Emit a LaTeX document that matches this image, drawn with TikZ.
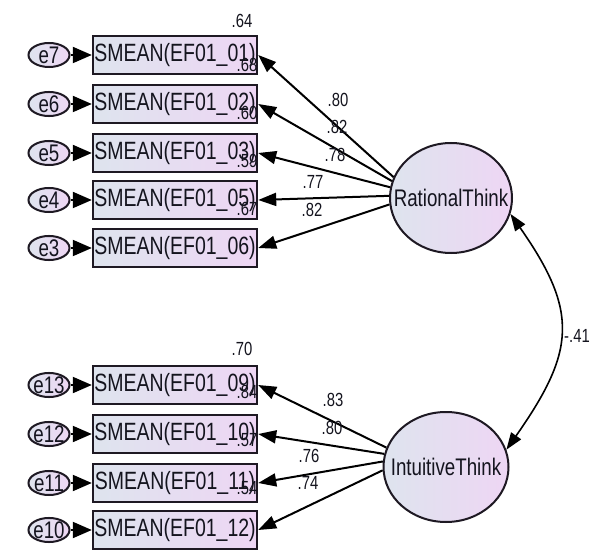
\documentclass[tikz,border=0pt]{standalone}
\usepackage{fontspec}
\setmainfont{Liberation Sans}[FakeStretch=0.78]
\usetikzlibrary{arrows.meta,shapes.geometric}
\definecolor{fillL}{RGB}{222,228,238}
\definecolor{fillR}{RGB}{238,214,244}
\definecolor{edge}{RGB}{30,25,35}
\definecolor{ink}{RGB}{20,20,30}
\tikzset{
  obs/.style={draw=edge, line width=2.4pt, left color=fillL, right color=fillR,
    minimum width=164pt, minimum height=38pt, inner sep=0pt, text=ink,
    font=\fontsize{25}{25}\selectfont},
  err/.style={ellipse, draw=edge, line width=2pt, left color=fillL, right color=fillR,
    minimum width=41pt, minimum height=24pt, inner sep=0pt, text=ink,
    font=\fontsize{24}{24}\selectfont},
  lat/.style={ellipse, draw=edge, line width=2pt, left color=fillL, right color=fillR,
    minimum width=120pt, minimum height=108pt, inner sep=0pt, text=ink,
    font=\fontsize{24}{24}\selectfont},
  load/.style={line width=2pt, -{Triangle[length=18pt,width=13pt]}},
  errarr/.style={line width=2pt, -{Triangle[length=19pt,width=16pt]}},
  cov/.style={line width=1.6pt, {Triangle[length=17pt,width=12pt]}-{Triangle[length=17pt,width=12pt]}},
  lbl/.style={font=\fontsize{19}{19}\selectfont, inner sep=0pt, text=ink},
}
\begin{document}
\begin{tikzpicture}[x=1pt,y=1pt]
\useasboundingbox[fill=white] (0,0) rectangle (595,550);

% latent variables
\node[lat, minimum width=122pt, minimum height=110pt] (RT) at (451,352) {\makebox[0pt]{RationalThink}};
\node[lat, minimum width=125pt, minimum height=110pt] (IT) at (446,83) {\makebox[0pt]{IntuitiveThink}};

% observed variables (upper)
\node[obs] (b1) at (175,495) {SMEAN(EF01\_01)};
\node[obs] (b2) at (175,446) {SMEAN(EF01\_02)};
\node[obs] (b3) at (175,397) {SMEAN(EF01\_03)};
\node[obs] (b4) at (175,350) {SMEAN(EF01\_05)};
\node[obs] (b5) at (175,302) {SMEAN(EF01\_06)};
% observed variables (lower)
\node[obs] (c1) at (175,165) {SMEAN(EF01\_09)};
\node[obs] (c2) at (175,116) {SMEAN(EF01\_10)};
\node[obs] (c3) at (175,67) {SMEAN(EF01\_11)};
\node[obs] (c4) at (175,20) {SMEAN(EF01\_12)};

% error terms
\node[err] (e7) at (49,495) {\makebox[0pt]{e7}};
\node[err] (e6) at (49,446) {\makebox[0pt]{e6}};
\node[err] (e5) at (49,397) {\makebox[0pt]{e5}};
\node[err] (e4) at (49,350) {\makebox[0pt]{e4}};
\node[err] (e3) at (49,302) {\makebox[0pt]{e3}};
\node[err] (e13) at (49,165) {\makebox[0pt]{e13}};
\node[err] (e12) at (49,116) {\makebox[0pt]{e12}};
\node[err] (e11) at (49,67) {\makebox[0pt]{e11}};
\node[err] (e10) at (49,20) {\makebox[0pt]{e10}};

\foreach \e/\b in {e7/b1,e6/b2,e5/b3,e4/b4,e3/b5,e13/c1,e12/c2,e11/c3,e10/c4}
  \draw[errarr] (\e) -- (\b);

% loadings
\draw[load] (RT.160) -- (b1.east);
\draw[load] (RT.164) -- (b2.east);
\draw[load] (RT.170) -- (b3.east);
\draw[load] (RT.178) -- (b4.east);
\draw[load] (RT.186) -- (b5.east);
\draw[load] (IT.162) -- (c1.east);
\draw[load] (IT.168) -- (c2.east);
\draw[load] (IT.175) -- (c3.east);
\draw[load] (IT.183) -- (c4.east);

% covariance
\draw[cov] (RT.-15) to[out=-55,in=55,looseness=1.3] (IT.16);

% loading labels
\node[lbl] (l1) at (338,450) {.80};
\node[lbl] (l2) at (337,423) {.82};
\node[lbl] (l3) at (335,395) {.78};
\node[lbl] (l4) at (313,368) {.77};
\node[lbl] (l5) at (312,340) {.82};
\node[lbl] (l6) at (333,150) {.83};
\node[lbl] (l7) at (332,122) {.80};
\node[lbl] (l8) at (309,94) {.76};
\node[lbl] (l9) at (308,67) {.74};
\node[lbl] (lc) at (577,214) {-.41};

% squared multiple correlations
\node[lbl] (r1) at (242,529) {.64};
\node[lbl] (r2) at (247,485) {.68};
\node[lbl] (r3) at (247,437) {.60};
\node[lbl] (r4) at (247,389) {.59};
\node[lbl] (r5) at (247,341) {.67};
\node[lbl] (r6) at (242,201) {.70};
\node[lbl] (r7) at (247,158) {.84};
\node[lbl] (r8) at (247,110) {.57};
\node[lbl] (r9) at (247,62) {.54};
\end{tikzpicture}
\end{document}
